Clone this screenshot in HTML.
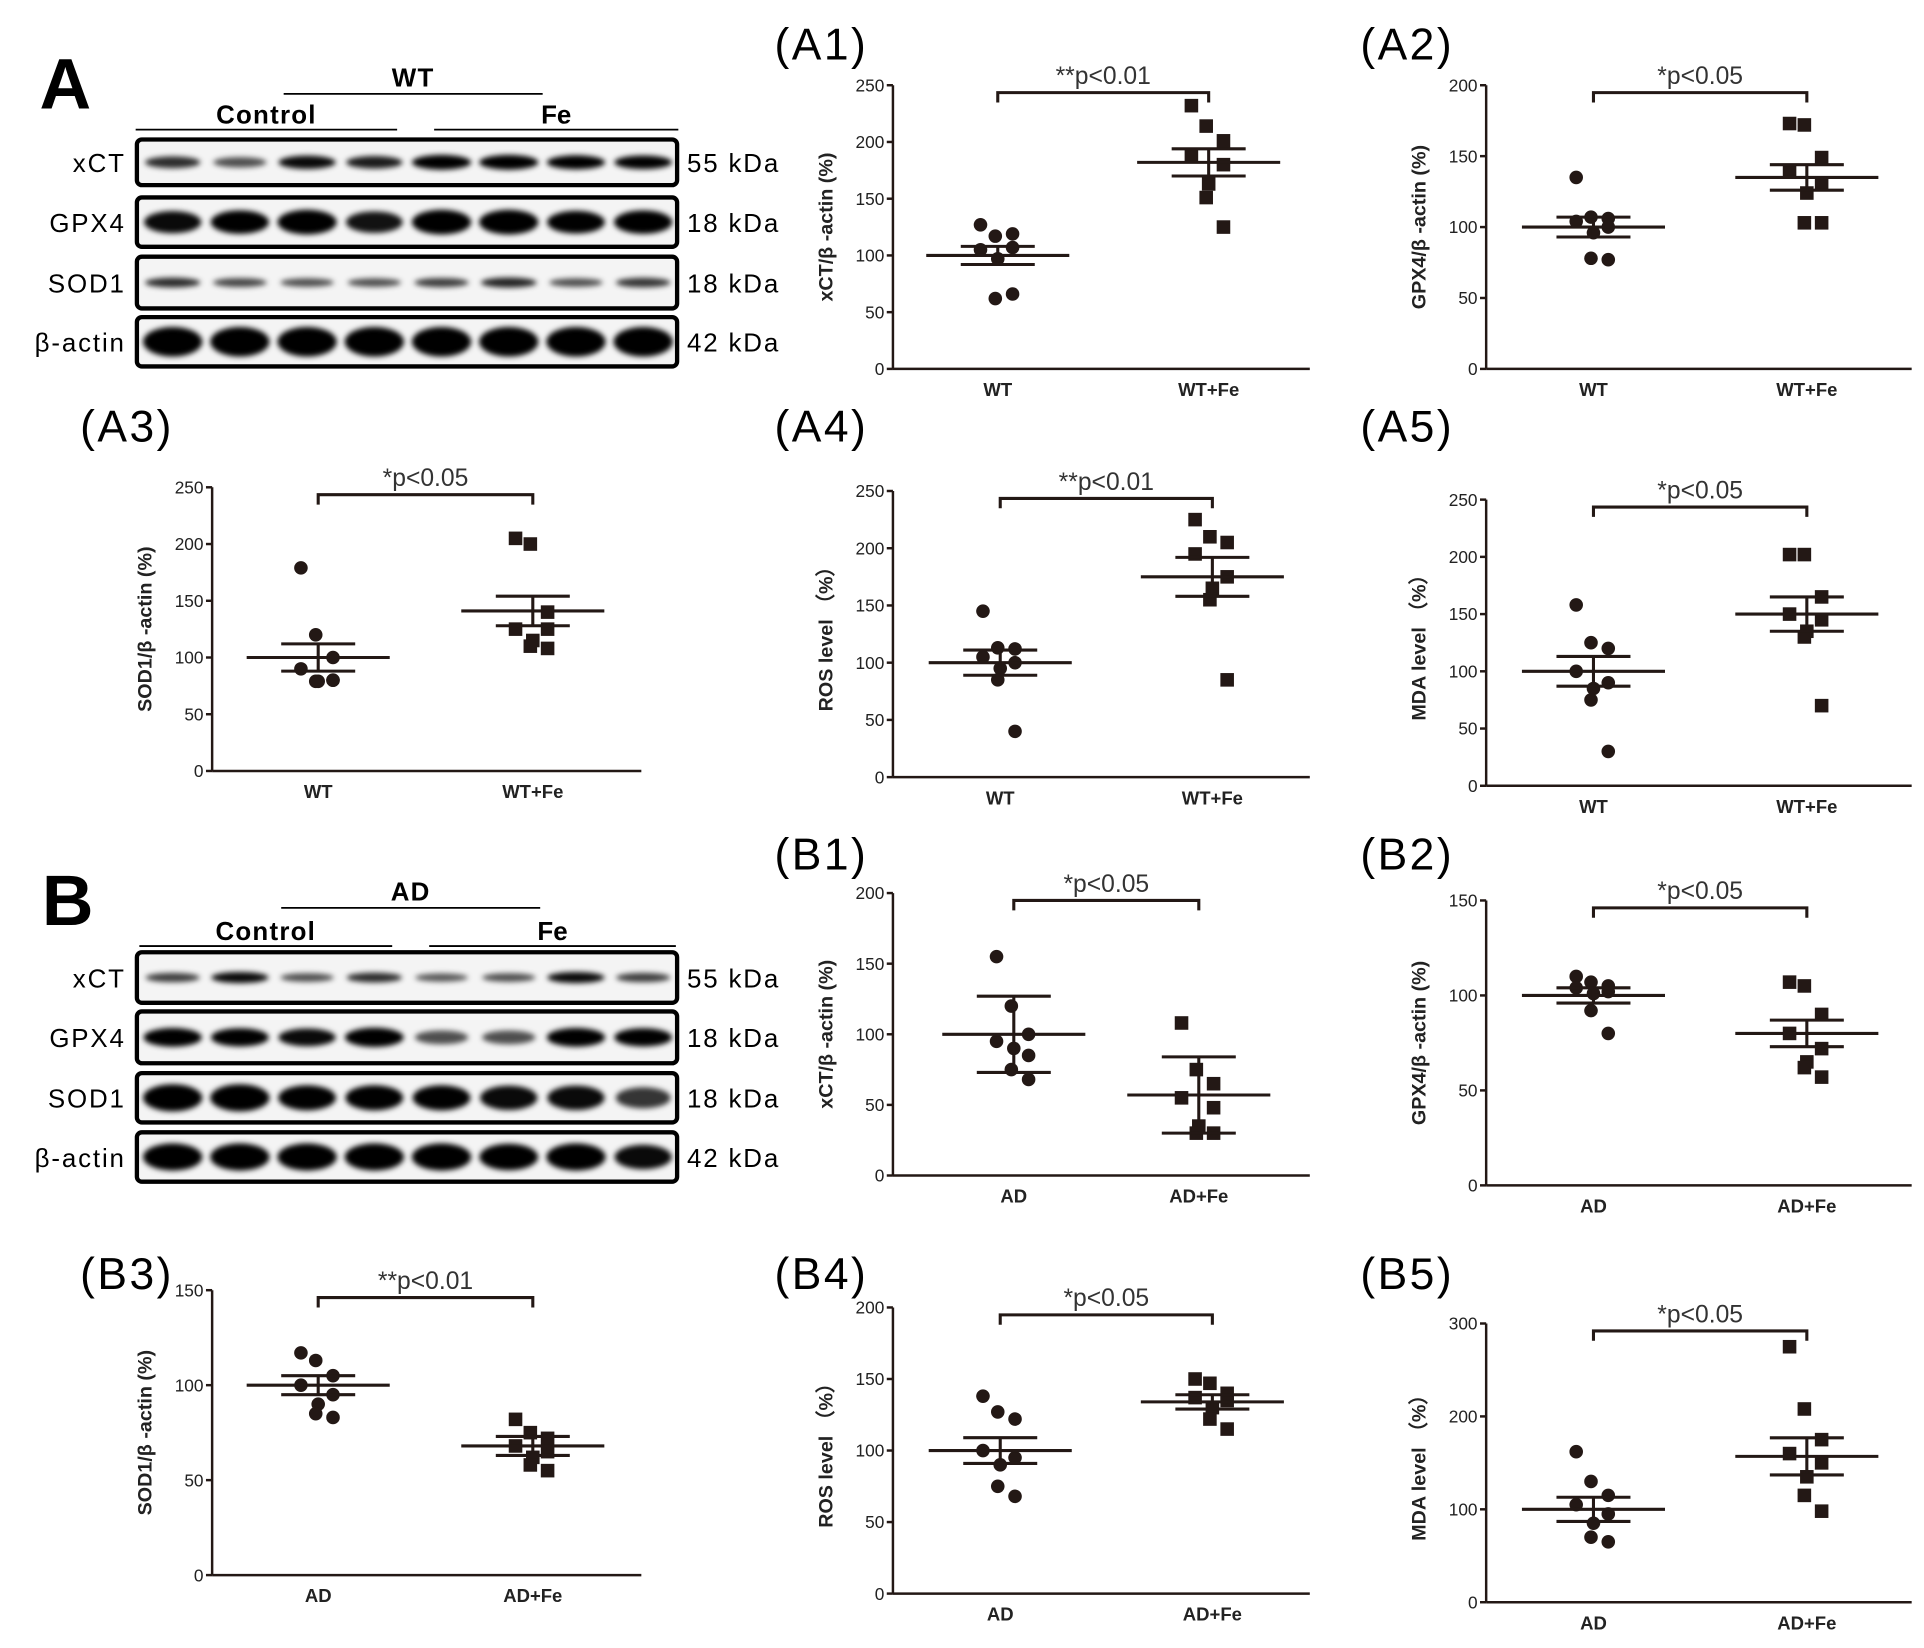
<!DOCTYPE html>
<html><head><meta charset="utf-8"><style>
html,body{margin:0;padding:0;background:#fff;}
svg{display:block;font-family:"Liberation Sans",Arial,sans-serif;}
</style></head><body>
<svg id="fig" width="1924" height="1648" viewBox="0 0 1560 1336" xmlns="http://www.w3.org/2000/svg">
<defs><filter id="blur" x="-20%" y="-50%" width="140%" height="200%"><feGaussianBlur stdDeviation="2.2"/></filter></defs>
<text x="32" y="88" font-size="58" font-weight="bold">A</text>
<text x="34" y="750" font-size="58" font-weight="bold">B</text>
<g id="blots"></g>
<g id="charts"></g>
</svg>
<script>
// ---- chart data ----
const catsA = ['WT','WT+Fe'];
const catsB = ['AD','AD+Fe'];
const a1Ctrl = [127,117,119,105,107,97,62,66];
const a1Fe = [232,214,201,188,180,163,151,125];
const a2Ctrl = [135,107,106,104,100,96,78,77];
const a2Fe = [173,172,149,140,130,124,103,103];
const a3Ctrl = [179,120,100,90,80,79,79,80];
const a3Fe = [205,200,140,125,125,115,110,108];
const a4Ctrl = [145,113,112,105,100,95,85,40];
const a4Fe = [225,210,205,195,175,165,155,85];
const a5Ctrl = [158,125,120,100,90,85,75,30];
const a5Fe = [202,202,165,150,145,135,130,70];
const b1Ctrl = [155,120,100,95,85,90,75,68];
const b1Fe = [108,75,65,55,48,35,30,30];
const b2Ctrl = [110,107,105,104,102,101,92,80];
const b2Fe = [107,105,90,80,72,65,62,57];
const b3Ctrl = [117,113,105,100,95,90,85,83];
const b3Fe = [82,75,72,68,65,62,58,55];
const b4Ctrl = [138,127,122,100,95,90,75,68];
const b4Fe = [150,147,140,137,135,130,122,115];
const b5Ctrl = [162,130,115,105,95,85,70,65];
const b5Fe = [275,208,175,160,150,135,115,98];
const meansCtrl = [100,100,100,100,100,100,100,100,100,100];
const meansFe = [182,135,141,175,150,57,80,68,134,157];
const errCtrl = [8,7,12,11,13,27,4,5,9,13];
const errFe = [12,9,13,17,15,27,7,5,5,20];
const ticks250 = [0,50,100,150,200,250];
const ticks200 = [0,50,100,150,200];
const ticks150 = [0,50,100,150];
const ticks300 = [0,100,200,300];

const NS='http://www.w3.org/2000/svg';
function mk(tag,attrs,parent){const e=document.createElementNS(NS,tag);for(const k in attrs)e.setAttribute(k,attrs[k]);if(parent)parent.appendChild(e);return e;}
const charts=document.getElementById('charts');
const jit=[-14,-2,12,-14,12,0,-2,12];

const panels=[
 {id:'a1',lab:'(A1)',lx:628,ly:48,ax:724,top:69,bot:299,end:1062,max:250,ticks:ticks250,c1:809,c2:980,cats:catsA,d1:a1Ctrl,d2:a1Fe,yt:'xCT/β -actin (%)',sig:'**p<0.01'},
 {id:'a2',lab:'(A2)',lx:1103,ly:48,ax:1205,top:69,bot:299,end:1550,max:200,ticks:ticks200,c1:1292,c2:1465,cats:catsA,d1:a2Ctrl,d2:a2Fe,yt:'GPX4/β -actin (%)',sig:'*p<0.05'},
 {id:'a3',lab:'(A3)',lx:65,ly:358,ax:172,top:395,bot:625,end:520,max:250,ticks:ticks250,c1:258,c2:432,cats:catsA,d1:a3Ctrl,d2:a3Fe,yt:'SOD1/β -actin (%)',sig:'*p<0.05'},
 {id:'a4',lab:'(A4)',lx:628,ly:358,ax:724,top:398,bot:630,end:1062,max:250,ticks:ticks250,c1:811,c2:983,cats:catsA,d1:a4Ctrl,d2:a4Fe,yt:'ROS level （%）',sig:'**p<0.01'},
 {id:'a5',lab:'(A5)',lx:1103,ly:358,ax:1205,top:405,bot:637,end:1550,max:250,ticks:ticks250,c1:1292,c2:1465,cats:catsA,d1:a5Ctrl,d2:a5Fe,yt:'MDA level （%）',sig:'*p<0.05'},
 {id:'b1',lab:'(B1)',lx:628,ly:705,ax:724,top:724,bot:953,end:1062,max:200,ticks:ticks200,c1:822,c2:972,cats:catsB,d1:b1Ctrl,d2:b1Fe,yt:'xCT/β -actin (%)',sig:'*p<0.05'},
 {id:'b2',lab:'(B2)',lx:1103,ly:705,ax:1205,top:730,bot:961,end:1550,max:150,ticks:ticks150,c1:1292,c2:1465,cats:catsB,d1:b2Ctrl,d2:b2Fe,yt:'GPX4/β -actin (%)',sig:'*p<0.05'},
 {id:'b3',lab:'(B3)',lx:65,ly:1045,ax:172,top:1046,bot:1277,end:520,max:150,ticks:ticks150,c1:258,c2:432,cats:catsB,d1:b3Ctrl,d2:b3Fe,yt:'SOD1/β -actin (%)',sig:'**p<0.01'},
 {id:'b4',lab:'(B4)',lx:628,ly:1045,ax:724,top:1060,bot:1292,end:1062,max:200,ticks:ticks200,c1:811,c2:983,cats:catsB,d1:b4Ctrl,d2:b4Fe,yt:'ROS level （%）',sig:'*p<0.05'},
 {id:'b5',lab:'(B5)',lx:1103,ly:1045,ax:1205,top:1073,bot:1299,end:1550,max:300,ticks:ticks300,c1:1292,c2:1465,cats:catsB,d1:b5Ctrl,d2:b5Fe,yt:'MDA level （%）',sig:'*p<0.05'}
];
panels.forEach((p,pi)=>{
 const g=mk('g',{},charts);
 
 
 const y=v=>p.bot-(v/p.max)*(p.bot-p.top);
 const t=mk('text',{x:p.lx,y:p.ly,'font-size':36,'letter-spacing':'2'},g);t.textContent=p.lab;
 
 const ya=mk('line',{x1:p.ax,y1:p.top,x2:p.ax,y2:p.bot,stroke:'#231815','stroke-width':2},g);
 
 const xa=mk('line',{x1:p.ax,y1:p.bot,x2:p.end,y2:p.bot,stroke:'#231815','stroke-width':2},g);
 
 p.ticks.forEach(v=>{
  mk('line',{x1:p.ax-5,y1:y(v),x2:p.ax,y2:y(v),stroke:'#231815','stroke-width':2},g);
  const tl=mk('text',{x:p.ax-7,y:y(v)+5,'font-size':14,'text-anchor':'end',fill:'#222'},g);tl.textContent=v;
  
 });
 [p.c1,p.c2].forEach((cx,i)=>{
  const cl=mk('text',{x:cx,y:p.bot+22,'font-size':15,'font-weight':'bold','text-anchor':'middle',fill:'#222'},g);cl.textContent=p.cats[i];
  
 });
 const yt=mk('text',{transform:`translate(${p.ax-49},${(p.top+p.bot)/2}) rotate(-90)`,'font-size':16,'font-weight':'bold','text-anchor':'middle',fill:'#222'},g);yt.textContent=p.yt;
 
 // bracket
 const by=p.top+6;
 const br=mk('path',{d:`M${p.c1},${by+8}V${by}H${p.c2}V${by+8}`,fill:'none',stroke:'#231815','stroke-width':2.5},g);
 
 const st=mk('text',{x:(p.c1+p.c2)/2,y:by-7,'font-size':20,'text-anchor':'middle',fill:'#333'},g);st.textContent=p.sig;
 
 // points
 p.d1.forEach((v,i)=>{const c=mk('circle',{cx:p.c1+jit[i],cy:y(v),r:5.5,fill:'#231815'},g);
  });
 p.d2.forEach((v,i)=>{const r=mk('rect',{x:p.c2+jit[i]-5.5,y:y(v)-5.5,width:11,height:11,fill:'#231815'},g);
  });
 [[p.c1,meansCtrl[pi],errCtrl[pi]],[p.c2,meansFe[pi],errFe[pi]]].forEach(([cx,m,e])=>{
  const ml=mk('line',{x1:cx-58,y1:y(m),x2:cx+58,y2:y(m),stroke:'#231815','stroke-width':2.5},g);
  
  mk('line',{x1:cx,y1:y(m-e),x2:cx,y2:y(m+e),stroke:'#231815','stroke-width':2.5},g);
  [m-e,m+e].forEach(v=>{const el=mk('line',{x1:cx-30,y1:y(v),x2:cx+30,y2:y(v),stroke:'#231815','stroke-width':2.5},g);
   });
 });
});

// ---- western blots ----
const blots=document.getElementById('blots');
const blotSets=[
 {id:'a',grp:'WT',gy:70,glx:[230,440],gl:76,cy:100,cl:105,cl1:[110,322],cl2:[352,550],rows:[
  {n:'xCT',k:'55 kDa',y1:113,y2:150,w:[0.6,0.4,0.8,0.7,1,1,0.9,0.85],h:6},
  {n:'GPX4',k:'18 kDa',y1:160,y2:200,w:[0.8,0.9,1,0.75,1,1,0.85,0.9],h:10},
  {n:'SOD1',k:'18 kDa',y1:208,y2:250,w:[0.6,0.45,0.4,0.4,0.5,0.65,0.4,0.55],h:5},
  {n:'β-actin',k:'42 kDa',y1:257,y2:297,w:[1,1,1,1,1,1,1,1],h:12}]},
 {id:'b',grp:'AD',gy:730,glx:[228,438],gl:736,cy:762,cl:767,cl1:[113,318],cl2:[348,548],rows:[
  {n:'xCT',k:'55 kDa',y1:772,y2:813,w:[0.5,0.8,0.4,0.6,0.35,0.4,0.8,0.5],h:5},
  {n:'GPX4',k:'18 kDa',y1:820,y2:862,w:[0.9,0.85,0.8,0.95,0.4,0.4,0.9,0.85],h:8},
  {n:'SOD1',k:'18 kDa',y1:870,y2:910,w:[1,1,0.85,0.85,0.85,0.8,0.8,0.55],h:11},
  {n:'β-actin',k:'42 kDa',y1:918,y2:958,w:[1,1,1,1,1,0.95,1,0.8],h:11}]}
];
blotSets.forEach(b=>{
 const g=mk('g',{},blots);
 
 const gt=mk('text',{x:(b.glx[0]+b.glx[1])/2,y:b.gy,'font-size':21,'font-weight':'bold','text-anchor':'middle','letter-spacing':'1'},g);gt.textContent=b.grp;
 mk('line',{x1:b.glx[0],y1:b.gl,x2:b.glx[1],y2:b.gl,stroke:'#000','stroke-width':1.5},g);
 const c1=mk('text',{x:(b.cl1[0]+b.cl1[1])/2,y:b.cy,'font-size':21,'font-weight':'bold','text-anchor':'middle','letter-spacing':'1'},g);c1.textContent='Control';
 const c2=mk('text',{x:(b.cl2[0]+b.cl2[1])/2,y:b.cy,'font-size':21,'font-weight':'bold','text-anchor':'middle'},g);c2.textContent='Fe';
 mk('line',{x1:b.cl1[0],y1:b.cl,x2:b.cl1[1],y2:b.cl,stroke:'#000','stroke-width':1.5},g);
 mk('line',{x1:b.cl2[0],y1:b.cl,x2:b.cl2[1],y2:b.cl,stroke:'#000','stroke-width':1.5},g);
 b.rows.forEach(r=>{
  const rg=mk('g',{},g);
  
  mk('rect',{x:111,y:r.y1,width:438,height:r.y2-r.y1,rx:4,fill:'#f4f4f4',stroke:'#000','stroke-width':3.5},rg);
  const bg=mk('g',{filter:'url(#blur)'},rg);
  r.w.forEach((w,i)=>{
   const cx=140+i*54.5;
   mk('ellipse',{cx:cx,cy:(r.y1+r.y2)/2,rx:20+w*4,ry:r.h*(0.5+w*0.5),fill:'#000','fill-opacity':Math.min(1,0.4+w*0.7)},bg);
  });
  const nl=mk('text',{x:102,y:(r.y1+r.y2)/2+8,'font-size':21,'text-anchor':'end','letter-spacing':'1.5'},rg);nl.textContent=r.n;
  const kl=mk('text',{x:557,y:(r.y1+r.y2)/2+8,'font-size':21,'letter-spacing':'1.5'},rg);kl.textContent=r.k;
 });
});
</script>
</body></html>
